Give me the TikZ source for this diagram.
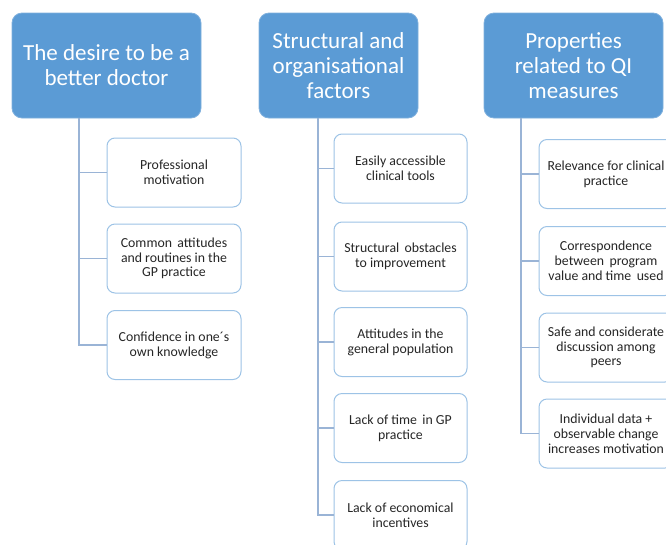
\documentclass[tikz,border=0pt]{standalone}
\usepackage{fontspec}
\setmainfont{Carlito}
\definecolor{headblue}{HTML}{5B9BD5}
\definecolor{headedge}{HTML}{7FB0DD}
\definecolor{childedge}{HTML}{9DC3E6}
\definecolor{linkblue}{HTML}{9AB4D6}
\definecolor{txt}{HTML}{262626}
\begin{document}
\begin{tikzpicture}[x=1pt,y=-1pt,
  headbox/.style={draw=headedge, fill=headblue, line width=0.8pt, rounded corners=10pt,
    text=white, font=\fontsize{23}{25}\selectfont, align=center,
    minimum height=105pt, inner sep=0pt},
  childbox/.style={draw=childedge, fill=white, line width=1pt, rounded corners=8pt,
    text=txt, font=\fontsize{13.8}{14.8}\selectfont, align=center,
    minimum height=69pt, inner sep=0pt},
  link/.style={draw=linkblue, line width=1.3pt}]
\useasboundingbox (0,0) rectangle (666,544);
\clip (0,0) rectangle (666,544);
% headers
\node[headbox, minimum width=189pt] (h1) at (106.5,65.5) {The desire to be a\\better doctor};
\node[headbox, minimum width=159pt] (h2) at (338.5,65.5) {Structural and\\organisational\\factors};
\node[headbox, minimum width=179pt] (h3) at (573.5,65.5) {Properties\\related to QI\\measures};
% column 1
\node[childbox, minimum width=134pt] (a1) at (174,172.5) {Professional\\motivation};
\node[childbox, minimum width=134pt] (a2) at (174,258.5) {Common\, attitudes\\and routines in the\\GP practice};
\node[childbox, minimum width=134pt] (a3) at (174,345) {Confidence in one´s\\own knowledge};
% column 2
\node[childbox, minimum width=133pt] (b1) at (400.5,168.5) {Easily accessible\\clinical tools};
\node[childbox, minimum width=133pt] (b2) at (400.5,256.5) {Structural\, obstacles\\to improvement};
\node[childbox, minimum width=133pt] (b3) at (400.5,342) {Attitudes in the\\general population};
\node[childbox, minimum width=133pt] (b4) at (400.5,428) {Lack of time\, in GP\\practice};
\node[childbox, minimum width=133pt] (b5) at (400.5,515) {Lack of economical\\incentives};
% column 3
\node[childbox, minimum width=134pt] (c1) at (606,174) {Relevance for clinical\\practice};
\node[childbox, minimum width=134pt] (c2) at (606,261) {Correspondence\\between\, program\\value and time\, used};
\node[childbox, minimum width=134pt] (c3) at (606,347.5) {Safe and considerate\\discussion among\\peers};
\node[childbox, minimum width=134pt] (c4) at (606,433.5) {Individual data +\\observable change\\increases motivation};
% trunk origins
\coordinate (t1) at (79,0);
\coordinate (t2) at (318,0);
\coordinate (t3) at (521,0);
% connectors
\draw[link] (t1 |- h1.south) |- (a3.west);
\draw[link] (t1 |- a1.west) -- (a1.west);
\draw[link] (t1 |- a2.west) -- (a2.west);
\draw[link] (t2 |- h2.south) |- (b5.west);
\draw[link] (t2 |- b1.west) -- (b1.west);
\draw[link] (t2 |- b2.west) -- (b2.west);
\draw[link] (t2 |- b3.west) -- (b3.west);
\draw[link] (t2 |- b4.west) -- (b4.west);
\draw[link] (t3 |- h3.south) |- (c4.west);
\draw[link] (t3 |- c1.west) -- (c1.west);
\draw[link] (t3 |- c2.west) -- (c2.west);
\draw[link] (t3 |- c3.west) -- (c3.west);
\end{tikzpicture}
\end{document}
